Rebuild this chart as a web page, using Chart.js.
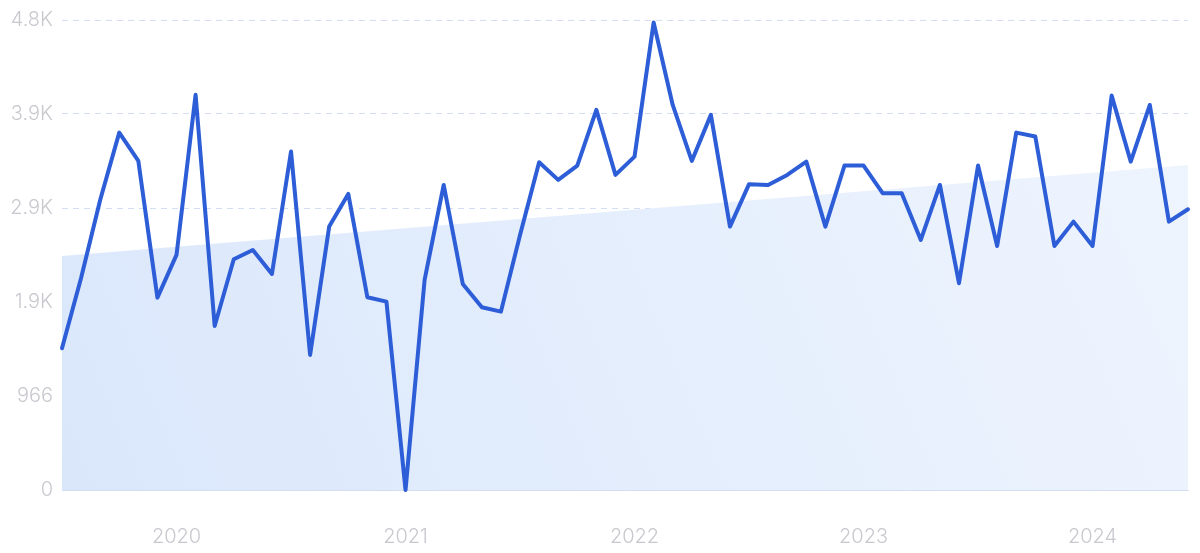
<!DOCTYPE html>
<html>
<head>
<meta charset="utf-8">
<script src="https://cdn.jsdelivr.net/npm/chart.js@4/dist/chart.umd.min.js"></script>
<style>
html,body{margin:0;padding:0;background:#fff;}
#wrap{width:1200px;height:553px;position:relative;}
</style>
</head>
<body>
<div id="wrap"><canvas id="c"></canvas></div>
<script>
const months = [
 '2019-07','2019-08','2019-09','2019-10','2019-11','2019-12',
 '2020-01','2020-02','2020-03','2020-04','2020-05','2020-06','2020-07','2020-08','2020-09','2020-10','2020-11','2020-12',
 '2021-01','2021-02','2021-03','2021-04','2021-05','2021-06','2021-07','2021-08','2021-09','2021-10','2021-11','2021-12',
 '2022-01','2022-02','2022-03','2022-04','2022-05','2022-06','2022-07','2022-08','2022-09','2022-10','2022-11','2022-12',
 '2023-01','2023-02','2023-03','2023-04','2023-05','2023-06','2023-07','2023-08','2023-09','2023-10','2023-11','2023-12',
 '2024-01','2024-02','2024-03','2024-04','2024-05','2024-06'
];
const volume = [
 1457,2179,2981,3673,3382,1977,
 2416,4061,1686,2371,2467,2220,3478,1388,2707,3043,1981,1936,
 0,2159,3135,2118,1878,1833,2620,3369,3187,3334,3906,3238,
 3426,4804,3957,3382,3855,2707,3143,3135,3238,3375,2707,3334,
 3334,3050,3050,2570,3135,2125,3334,2508,3673,3632,2508,2758,
 2508,4053,3375,3957,2758,2885
];
const trendStart = 2405;
const trendEnd = 3341;
const yTickValues = [0, 966, 1932, 2898, 3864, 4830];
const yTickLabels = ['0', '966', '1.9K', '2.9K', '3.9K', '4.8K'];

const ctx = document.getElementById('c').getContext('2d');
new Chart(ctx, {
  type: 'line',
  data: {
    labels: months,
    datasets: [
      {
        data: volume,
        borderColor: '#2d5ed7',
        borderWidth: 4,
        borderJoinStyle: 'round',
        borderCapStyle: 'round',
        pointRadius: 0,
        tension: 0,
        fill: false,
        clip: false
      },
      {
        data: [{x: months[0], y: trendStart}, {x: months[months.length-1], y: trendEnd}],
        borderWidth: 0,
        borderColor: 'rgba(0,0,0,0)',
        pointRadius: 0,
        tension: 0,
        fill: 'origin',
        backgroundColor: (c) => {
          const a = c.chart.chartArea;
          if (!a) return '#e4eefc';
          const g = c.chart.ctx.createLinearGradient(a.left, a.bottom, a.right, a.top);
          g.addColorStop(0, '#dae7fb');
          g.addColorStop(1, '#eff5fe');
          return g;
        }
      }
    ]
  },
  options: {
    responsive: true,
    maintainAspectRatio: false,
    animation: false,
    layout: {padding: {top: 20, right: 12, left: 0, bottom: 0}},
    plugins: {legend: {display: false}, tooltip: {enabled: false}},
    scales: {
      x: {
        type: 'category',
        offset: false,
        grid: {display: false, drawTicks: false},
        border: {display: true, color: '#d3def2', width: 1},
        ticks: {
          autoSkip: false,
          maxRotation: 0,
          padding: 35,
          color: '#c8c8cf',
          font: {family: 'Inter', size: 20, weight: 300},
          callback: function(v, i) {
            const m = months[i];
            return m.endsWith('-01') ? m.slice(0, 4) : '';
          }
        },
        afterFit: (s) => { s.height = 63; s.paddingLeft = 0; s.paddingRight = 0; }
      },
      y: {
        min: 0,
        max: 4830,
        afterBuildTicks: (s) => { s.ticks = yTickValues.map(v => ({value: v})); },
        grid: {
          drawTicks: false,
          color: (c) => c.tick && c.tick.value === 0 ? 'rgba(0,0,0,0)' : '#d3def2',
          lineWidth: 1
        },
        border: {display: false, dash: [6, 5]},
        ticks: {
          padding: 9,
          color: '#c8c8cf',
          font: {family: 'Inter', size: 20, weight: 300},
          callback: function(v) {
            const i = yTickValues.indexOf(v);
            return i >= 0 ? yTickLabels[i] : '';
          }
        },
        afterFit: (s) => { s.width = 62; s.paddingTop = 0; s.paddingBottom = 0; }
      }
    }
  }
});
</script>
</body>
</html>
